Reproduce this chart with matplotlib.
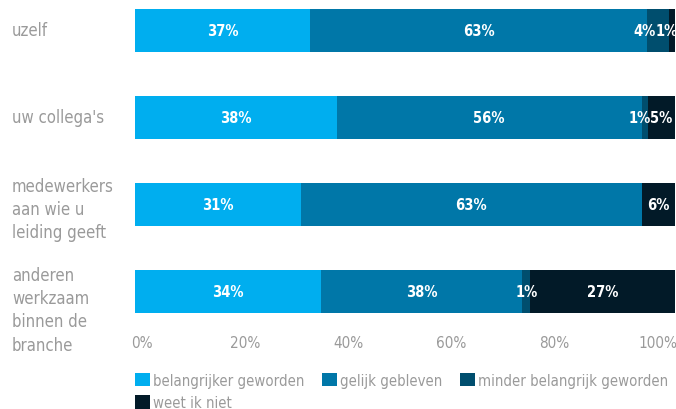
import matplotlib
matplotlib.use("Agg")
import matplotlib.pyplot as plt
from matplotlib.patches import Patch
import numpy as np

plt.rcParams['font.family'] = ['DejaVu Sans']
plt.rcParams['font.stretch'] = 'condensed'

# Data (bar widths in %, labels as printed)
categories = ["uzelf", "uw collega's", "medewerkers\naan wie u\nleiding geeft",
              "anderen\nwerkzaam\nbinnen de\nbranche"]
series = ["belangrijker geworden", "gelijk gebleven",
          "minder belangrijk geworden", "weet ik niet"]
belangrijker = [32.4, 37.4, 30.8, 34.5]
gelijk = [62.4, 56.4, 63.0, 37.2]
minder = [4.1, 1.2, 0.0, 1.5]
weet_niet = [1.1, 5.0, 6.2, 26.8]
labels_belangrijker = ["37%", "38%", "31%", "34%"]
labels_gelijk = ["63%", "56%", "63%", "38%"]
labels_minder = ["4%", "1%", "", "1%"]
labels_weet_niet = ["1%", "5%", "6%", "27%"]
tick_labels = ["0%", "20%", "40%", "60%", "80%", "100%"]

colors = ["#00aeef", "#0077a8", "#004e6e", "#021a28"]
grey = "#9a9a9a"

values = [belangrijker, gelijk, minder, weet_niet]
value_labels = [labels_belangrijker, labels_gelijk, labels_minder, labels_weet_niet]

fig = plt.figure(figsize=(6.76, 4.10), dpi=100)
ax = fig.add_axes([135/676, 1 - 315/410, 540/676, 306/410])

y = np.arange(len(categories))
left = np.zeros(len(categories))
for vals, col in zip(values, colors):
    ax.barh(y, vals, left=left, height=0.49, color=col)
    left += np.array(vals)

# segment labels, pushed left so they don't run off the bar or overlap
for i in range(len(categories)):
    starts = np.cumsum([0] + [v[i] for v in values])[:-1]
    edge = 100.4
    for k in range(len(values) - 1, -1, -1):
        txt = value_labels[k][i]
        if not txt:
            continue
        c = starts[k] + values[k][i] / 2
        w = 2.0 * len(txt)
        c = min(c, edge - w / 2)
        edge = c - w / 2
        ax.text(c, y[i], txt, ha='center', va='center', color='white',
                fontsize=10.5, fontweight='bold')

ax.set_xlim(0, 100)
ax.set_ylim(len(categories) - 1 + 0.255, -0.255)
ax.set_yticks([])
ax.set_xticks(np.linspace(1.3, 96.8, 6))
ax.set_xticklabels(tick_labels)
ax.tick_params(axis='x', length=0, pad=15, labelsize=11, labelcolor=grey)
for s in ax.spines.values():
    s.set_visible(False)

# category labels
for i, cat in enumerate(categories):
    n = cat.count("\n") + 1
    if n > 3:
        ax.text(-22.8, y[i] - 0.3, cat, ha='left', va='top', color=grey,
                fontsize=12, linespacing=1.38)
    elif n == 3:
        ax.text(-22.8, y[i] + 0.05, cat, ha='left', va='center', color=grey,
                fontsize=12, linespacing=1.38)
    else:
        ax.text(-22.8, y[i], cat, ha='left', va='center', color=grey,
                fontsize=12, linespacing=1.38)

handles = [Patch(facecolor=c, edgecolor='none') for c in colors]
order = [0, 3, 1, 2]
fig.legend([handles[k] for k in order], [series[k] for k in order],
           loc='lower left', bbox_to_anchor=(135/676, -0.003), ncol=3,
           frameon=False, fontsize=10.7, labelcolor=grey,
           handlelength=1.0, handleheight=1.0, handletextpad=0.2,
           columnspacing=1.2, labelspacing=0.5, borderpad=0.0,
           borderaxespad=0.0)

fig.savefig("out.png", dpi=100)
